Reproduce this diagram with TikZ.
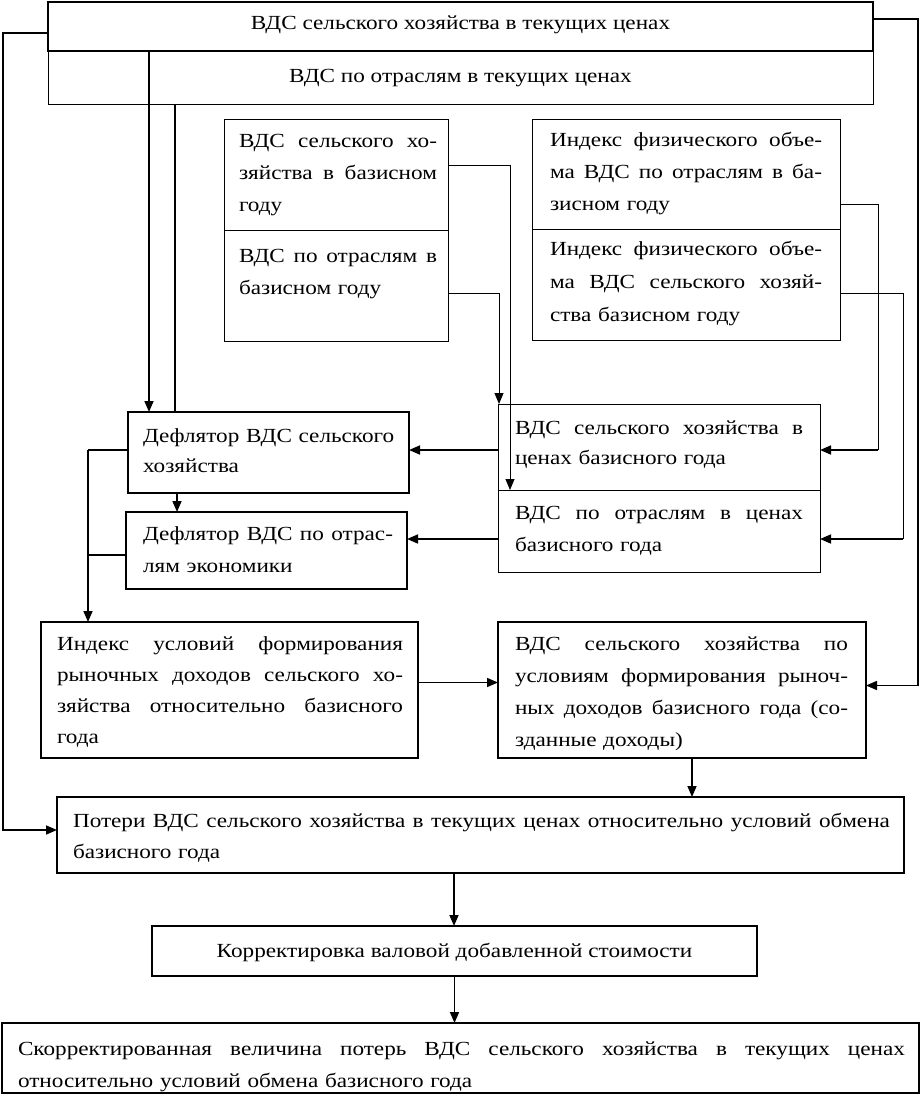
\documentclass[tikz,border=0pt]{standalone}
\usepackage{fontspec}
\setmainfont{Liberation Serif}[FakeStretch=1.16]
\usetikzlibrary{arrows.meta,calc}
\newcommand\jl[1]{\makebox[\hsize][s]{\spaceskip=0pt\xspaceskip=0pt #1}\\}
\newcommand\mybox[6]{\node[draw,line width=#6,inner sep=0pt,outer sep=0pt,anchor=north west,
  minimum width={#4pt-#2pt},minimum height={#5pt-#3pt}] (#1) at (#2,#3) {};}
\tikzset{
  thk/.style={line width=1.6pt},
  thn/.style={line width=0.9pt},
  arr/.style={-{Triangle[length=11pt,width=9pt]}},
  txt/.style={inner sep=0pt,outer sep=0pt,align=left,anchor=base west},
  fs/.style={font=\fontsize{20}{#1}\selectfont}
}
\begin{document}
\begin{tikzpicture}[x=1pt,y=-1pt]
\useasboundingbox (0,0) rectangle (921,1095);
% boxes
\mybox{A1}{48}{2}{873}{51}{1.4pt}
\mybox{A2}{48}{51}{873}{104}{1.0pt}
\mybox{B1}{224}{119}{448}{230}{0.9pt}
\mybox{B2}{224}{230}{448}{341}{0.9pt}
\mybox{C1}{532}{119}{840}{229}{0.9pt}
\mybox{C2}{532}{229}{840}{340}{0.9pt}
\mybox{D1}{498}{404}{820}{490}{0.9pt}
\mybox{D2}{498}{490}{820}{572}{0.9pt}
\mybox{E}{128}{412}{409}{493}{1.6pt}
\mybox{F}{126}{512}{407}{589}{1.6pt}
\mybox{G}{41}{622}{418}{758}{1.6pt}
\mybox{H}{498}{622}{866}{758}{1.6pt}
\mybox{I}{57}{797}{904}{873}{1.2pt}
\mybox{J}{152}{926}{757}{976}{1.6pt}
\mybox{K}{2}{1023}{919}{1093}{1.6pt}
% texts
\node[txt,fs=31,anchor=base] (tA1) at (460.5,29) {ВДС сельского хозяйства в текущих ценах};
\node[txt,fs=31,anchor=base] (tA2) at (460.5,82) {ВДС по отраслям в текущих ценах};
\node[txt,fs=32,text width=198pt] (tB1) at (239,147) {\jl{ВДС сельского хо-}\jl{зяйства в базисном}году};
\node[txt,fs=32,text width=198pt] (tB2) at (239,262) {\jl{ВДС по отраслям в}базисном году};
\node[txt,fs=32,text width=272pt] (tC1) at (550,146) {\jl{Индекс физического объе-}\jl{ма ВДС по отраслям в ба-}зисном году};
\node[txt,fs=33,text width=272pt] (tC2) at (550,255) {\jl{Индекс физического объе-}\jl{ма ВДС сельского хозяй-}ства базисном году};
\node[txt,fs=30,text width=288pt] (tD1) at (515,434) {\jl{ВДС сельского хозяйства в}ценах базисного года};
\node[txt,fs=32,text width=288pt] (tD2) at (515,519) {\jl{ВДС по отраслям в ценах}базисного года};
\node[txt,fs=30,text width=262pt] (tE) at (143,442) {Дефлятор ВДС сельского\\хозяйства};
\node[txt,fs=32,text width=250pt] (tF) at (143,540) {\jl{Дефлятор ВДС по отрас-}лям экономики};
\node[txt,fs=31,text width=346pt] (tG) at (57,650) {\jl{Индекс условий формирования}\jl{рыночных доходов сельского хо-}\jl{зяйства относительно базисного}года};
\node[txt,fs=32,text width=333pt] (tH) at (515,650) {\jl{ВДС сельского хозяйства по}\jl{условиям формирования рыноч-}\jl{ных доходов базисного года (со-}зданные доходы)};
\node[txt,fs=31,text width=817pt] (tI) at (73,827) {\jl{Потери ВДС сельского хозяйства в текущих ценах относительно условий обмена}базисного года};
\node[txt,fs=31,anchor=base] (tJ) at (454.5,957) {Корректировка валовой добавленной стоимости};
\node[txt,fs=32,text width=887pt] (tK) at (18,1055) {\jl{Скорректированная величина потерь ВДС сельского хозяйства в текущих ценах}относительно условий обмена базисного года};
% connectors
\draw[thk,arr] ([yshift=-6.5pt]A1.west) -- ++(-45,0) |- ([yshift=5pt]I.west);
\draw[thk,arr] ([yshift=7.5pt]A1.east) -- ++(45,0) |- ([yshift=4.5pt]H.east);
\draw[thk,arr] ($(A1.south west)+(101,0)$) -- ($(E.north west)+(21,0)$);
\draw[thk] ($(A2.south west)+(127,0)$) -- ($(E.north west)+(47,0)$);
\draw[thn,arr] ([yshift=9.5pt]B1.east) -| ($(D2.north west)+(12,0)$);
\draw[thn,arr] ([yshift=-7.5pt]B2.east) -| ($(D1.north west)+(1,0)$);
\coordinate (d1e) at ([yshift=-3pt]D1.east);
\draw[thn] ([yshift=-30pt]C1.east) -- ++(38,0) coordinate (c1r) -- (c1r |- d1e);
\draw[thk,arr] (c1r |- d1e) -- (d1e);
\coordinate (d2e) at ([yshift=-8pt]D2.east);
\draw[thn] ([yshift=-8.5pt]C2.east) -- ++(63,0) coordinate (c2r) -- (c2r |- d2e);
\draw[thk,arr] (c2r |- d2e) -- (d2e);
\coordinate (d1w) at ([yshift=-3pt]D1.west);
\draw[thk,arr] (d1w) -- (d1w -| E.east);
\coordinate (d2w) at ([yshift=-8pt]D2.west);
\draw[thk,arr] (d2w) -- (d2w -| F.east);
\coordinate (gt) at ($(G.north west)+(47,0)$);
\coordinate (ew) at ([yshift=2.5pt]E.west);
\coordinate (fw) at ([yshift=-4.5pt]F.west);
\draw[thk] (ew) -- (ew -| gt);
\draw[thk] (fw) -- (fw -| gt);
\draw[thk,arr] (ew -| gt) -- (gt);
\draw[thk,arr] ($(E.south west)+(49,0)$) -- ($(F.north west)+(51,0)$);
\coordinate (ge) at ([yshift=7.5pt]G.east);
\draw[thk,arr] (ge) -- (ge -| H.west);
\coordinate (hs) at ($(H.south west)+(194,0)$);
\draw[thk,arr] (hs) -- (hs |- I.north);
\coordinate (is) at ($(I.south west)+(397,0)$);
\draw[thk,arr] (is) -- (is |- J.north);
\draw[thk,arr] (J.south) -- (J.south |- K.north);
\end{tikzpicture}
\end{document}
